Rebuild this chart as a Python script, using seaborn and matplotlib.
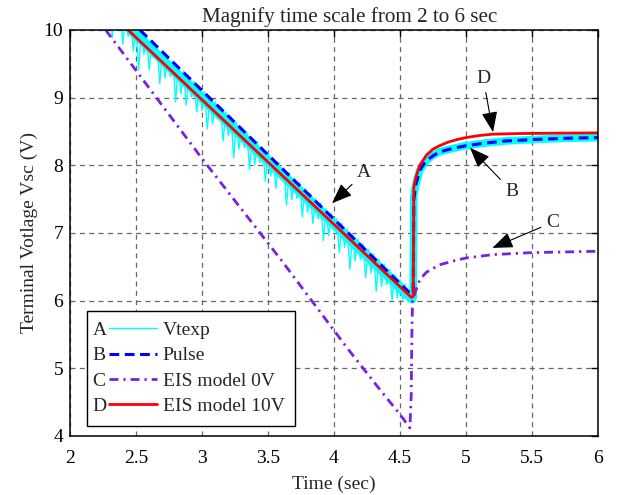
import matplotlib
matplotlib.use('Agg')
import matplotlib.pyplot as plt
from matplotlib.legend_handler import HandlerLine2D
from matplotlib.text import Text
import seaborn as sns

# Vtexp (measured, noisy) - descending part
vt_time = [2.24, 2.26, 2.28, 2.30, 2.32, 2.34, 2.36, 2.38, 2.40, 2.42,
           2.44, 2.46, 2.48, 2.50, 2.52, 2.54, 2.56, 2.58, 2.60, 2.62,
           2.64, 2.66, 2.68, 2.70, 2.72, 2.74, 2.76, 2.78, 2.80, 2.82,
           2.84, 2.86, 2.88, 2.90, 2.92, 2.94, 2.96, 2.98, 3.00, 3.02,
           3.04, 3.06, 3.08, 3.10, 3.12, 3.14, 3.16, 3.18, 3.20, 3.22,
           3.24, 3.26, 3.28, 3.30, 3.32, 3.34, 3.36, 3.38, 3.40, 3.42,
           3.44, 3.46, 3.48, 3.50, 3.52, 3.54, 3.56, 3.58, 3.60, 3.62,
           3.64, 3.66, 3.68, 3.70, 3.72, 3.74, 3.76, 3.78, 3.80, 3.82,
           3.84, 3.86, 3.88, 3.90, 3.92, 3.94, 3.96, 3.98, 4.00, 4.02,
           4.04, 4.06, 4.08, 4.10, 4.12, 4.14, 4.16, 4.18, 4.20, 4.22,
           4.24, 4.26, 4.28, 4.30, 4.32, 4.34, 4.36, 4.38, 4.40, 4.42,
           4.44, 4.46, 4.48, 4.50, 4.52, 4.54, 4.56, 4.58, 4.60]
vt_volt = [9.99, 10.51, 10.11, 10.44, 9.89, 10.36, 10.01, 10.29, 9.79, 10.21,
           9.91, 10.14, 9.69, 10.06, 9.41, 9.99, 9.64, 9.91, 9.41, 9.84,
           9.59, 9.76, 9.21, 9.69, 9.29, 9.61, 9.31, 9.54, 8.94, 9.46,
           9.06, 9.39, 8.89, 9.31, 9.01, 9.24, 8.79, 9.16, 8.81, 9.09,
           8.54, 9.01, 8.61, 8.94, 8.69, 8.86, 8.36, 8.79, 8.44, 8.71,
           8.11, 8.64, 8.24, 8.56, 8.26, 8.49, 7.94, 8.41, 8.01, 8.34,
           8.04, 8.26, 7.76, 8.19, 7.84, 8.11, 7.66, 8.04, 7.79, 7.96,
           7.41, 7.89, 7.49, 7.81, 7.51, 7.74, 7.24, 7.66, 7.31, 7.59,
           7.14, 7.51, 7.21, 7.44, 6.89, 7.36, 6.96, 7.29, 7.04, 7.21,
           6.71, 7.14, 6.79, 7.06, 6.46, 6.99, 6.59, 6.91, 6.61, 6.84,
           6.34, 6.76, 6.41, 6.69, 6.14, 6.61, 6.21, 6.54, 6.24, 6.46,
           6.01, 6.39, 6.04, 6.31, 6.01, 6.24, 6.04, 6.14, 6.05]
# dense core of the Vtexp noise band (descending part)
vt_band_time = [2.26, 4.59]
vt_band_volt = [10.38, 6.03]
# Vtexp - recovery part
vt_rec_time = [4.60, 4.605, 4.62, 4.65, 4.70, 4.75, 4.80, 4.90, 5.00, 5.15, 5.30, 5.50, 5.75, 6.00]
vt_rec_volt = [6.05, 7.55, 7.72, 7.93, 8.07, 8.15, 8.20, 8.25, 8.29, 8.33, 8.36, 8.38, 8.40, 8.41]

# Pulse
pulse_time = [2.53, 4.57, 4.60, 4.605, 4.62, 4.65, 4.70, 4.75, 4.80, 4.90, 5.00, 5.15, 5.30, 5.50, 5.75, 6.00]
pulse_volt = [10.0, 6.12, 6.10, 7.50, 7.72, 7.93, 8.07, 8.14, 8.20, 8.25, 8.29, 8.33, 8.36, 8.38, 8.40, 8.41]

# EIS model 0V
eis0_time = [2.27, 3.00, 3.60, 4.10, 4.35, 4.50, 4.575, 4.585, 4.59, 4.595, 4.62, 4.65,
             4.70, 4.80, 4.93, 5.00, 5.20, 5.50, 6.00]
eis0_volt = [10.0, 8.10, 6.60, 5.30, 4.68, 4.32, 4.12, 4.60, 5.50, 6.00, 6.15, 6.31,
             6.42, 6.53, 6.60, 6.63, 6.68, 6.71, 6.73]

# EIS model 10V
eis10_time = [2.44, 4.585, 4.60, 4.605, 4.62, 4.65, 4.70, 4.75, 4.80, 4.86, 4.93, 5.00,
              5.10, 5.20, 5.40, 6.00]
eis10_volt = [10.0, 6.05, 6.06, 7.68, 7.82, 8.00, 8.15, 8.24, 8.29, 8.34, 8.38, 8.41,
              8.44, 8.46, 8.47, 8.48]

letters = ['A', 'B', 'C', 'D']
labels = ['Vtexp', 'Pulse', 'EIS model 0V', 'EIS model 10V']


class LetterHandler(HandlerLine2D):
    # legend entry with a letter before the line
    def __init__(self, letter, **kw):
        super().__init__(**kw)
        self.letter = letter

    def create_artists(self, legend, orig_handle, xdescent, ydescent,
                       width, height, fontsize, trans):
        off = 0.57 * fontsize
        arts = super().create_artists(legend, orig_handle, xdescent - off, ydescent,
                                      width - off, height, fontsize, trans)
        t = Text(-xdescent - 0.25 * fontsize, -ydescent, self.letter, fontsize=fontsize,
                 ha='left', va='baseline', transform=trans)
        return list(arts) + [t]


sns.set_style('white')
plt.rcParams['font.family'] = ['Liberation Serif', 'DejaVu Serif']

fig = plt.figure(figsize=(6.18, 4.95), dpi=100)
ax = fig.add_axes([0.1133, 0.1192, 0.8543, 0.8202])

cyan = '#00ffff'
sns.lineplot(x=vt_band_time, y=vt_band_volt, color=cyan, lw=7, sort=False, estimator=None, ax=ax)
sns.lineplot(x=vt_rec_time, y=vt_rec_volt, color=cyan, lw=5.5, sort=False, estimator=None, ax=ax)
sns.lineplot(x=vt_time + vt_rec_time, y=vt_volt + vt_rec_volt, color=cyan, lw=1.0,
             sort=False, estimator=None, ax=ax)
h_a = ax.lines[-1]
sns.lineplot(x=pulse_time, y=pulse_volt, color='#0000ff', lw=2.2, linestyle=(0, (3.2, 1.8)),
             sort=False, estimator=None, ax=ax)
h_b = ax.lines[-1]
sns.lineplot(x=eis0_time, y=eis0_volt, color='#7a1fe6', lw=2.0, linestyle=(0, (3.2, 1.8, 0.8, 1.8)),
             sort=False, estimator=None, ax=ax)
h_c = ax.lines[-1]
sns.lineplot(x=eis10_time, y=eis10_volt, color='#ff0000', lw=2.0,
             sort=False, estimator=None, ax=ax)
h_d = ax.lines[-1]

ax.set_xlim(2, 6)
ax.set_ylim(4, 10)
ax.set_xticks([2, 2.5, 3, 3.5, 4, 4.5, 5, 5.5, 6])
ax.set_xticklabels(['2', '2.5', '3', '3.5', '4', '4.5', '5', '5.5', '6'])
ax.set_yticks([4, 5, 6, 7, 8, 9, 10])
ax.grid(True, linestyle=(0, (4, 3.5)), color='0.4', lw=0.9)
ax.set_axisbelow(True)
ax.tick_params(direction='in', top=True, right=True, length=5, width=1,
               labelsize=14, pad=5, colors='black')
ax.tick_params(axis='x', pad=10)
for s in ax.spines.values():
    s.set_visible(True)
    s.set_color('black')
    s.set_linewidth(1.1)

ax.set_title('Magnify time scale from 2 to 6 sec', fontsize=15.2, pad=6, x=0.53)
ax.set_xlabel('Time (sec)', fontsize=14, labelpad=6)
ax.set_ylabel('Terminal Votlage Vsc (V)', fontsize=14, labelpad=4)

# annotations
arw = dict(arrowstyle='-|>,head_length=0.9,head_width=0.35', color='black', lw=0.8,
           mutation_scale=14, shrinkA=2, shrinkB=0)
ax.annotate('A', xy=(3.985, 7.44), xytext=(4.23, 7.89), fontsize=14,
            ha='center', va='center', arrowprops=arw)
ax.annotate('D', xy=(5.205, 8.49), xytext=(5.13, 9.29), fontsize=14,
            ha='center', va='center', arrowprops=arw)
ax.annotate('B', xy=(5.03, 8.26), xytext=(5.35, 7.61), fontsize=14,
            ha='center', va='center', arrowprops=arw)
ax.annotate('C', xy=(5.20, 6.78), xytext=(5.66, 7.16), fontsize=14,
            ha='center', va='center', arrowprops=arw)

handles = [h_a, h_b, h_c, h_d]
leg = ax.legend(handles, labels, loc='lower left', bbox_to_anchor=(0.032, 0.025),
                borderaxespad=0, fontsize=14, handlelength=3.05, handletextpad=0.3,
                labelspacing=0.4, borderpad=0.55, fancybox=False, framealpha=1,
                edgecolor='black',
                handler_map={h: LetterHandler(l) for h, l in zip(handles, letters)})
leg.get_frame().set_linewidth(1.0)

fig.savefig('out.png', dpi=100)
